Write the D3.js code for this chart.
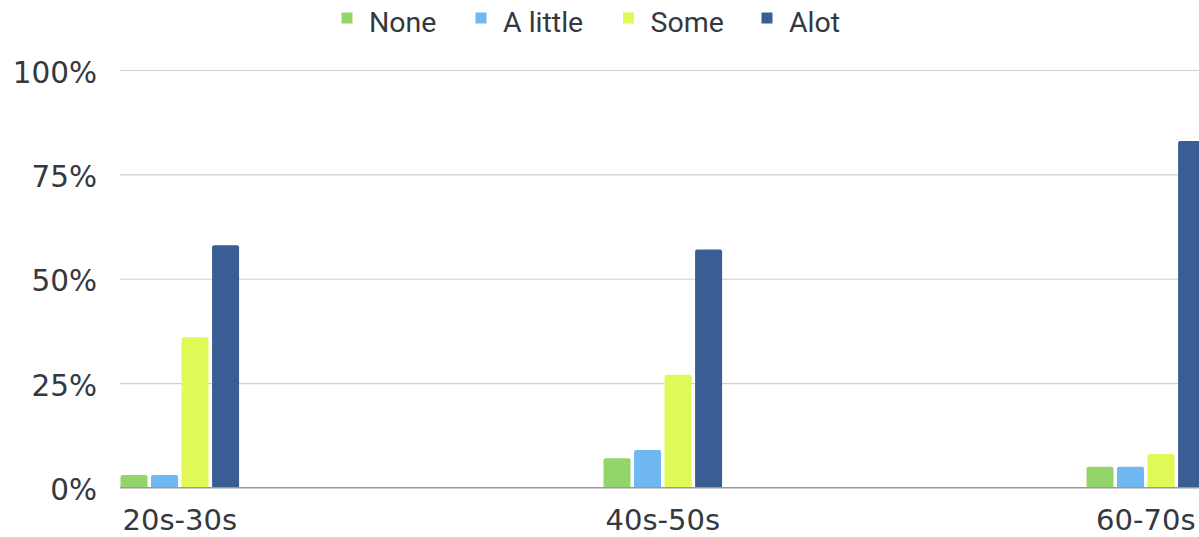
<!DOCTYPE html>
<html>
<head>
<meta charset="utf-8">
<script src="https://cdn.jsdelivr.net/npm/d3@7"></script>
<style>
  body { margin: 0; background: #fff; }
  svg text { fill: #343840; }
  .axis text { font-family: "DejaVu Sans", sans-serif; }
  .legend text { font-family: Roboto, sans-serif; }
</style>
</head>
<body>
<svg id="chart" width="1199" height="537"></svg>
<script>
// age groups and answer levels
const categories = ['20s-30s', '40s-50s', '60-70s'];
const seriesNames = ['None', 'A little', 'Some', 'Alot'];
const seriesColors = ['#94d56b', '#6fb8f2', '#e1f957', '#3a5e94'];

// share of answers per series, one value per age group
const noneValues = [0.03, 0.07, 0.05];
const aLittleValues = [0.03, 0.09, 0.05];
const someValues = [0.36, 0.27, 0.08];
const alotValues = [0.58, 0.57, 0.83];

const yTicks = [0, 0.25, 0.5, 0.75, 1];

const seriesValues = [noneValues, aLittleValues, someValues, alotValues];
const data = categories.map((c, i) => ({
    category: c,
    values: seriesNames.map((s, j) => ({ key: s, value: seriesValues[j][i], color: seriesColors[j] }))
}));

const WIDTH = 1199;
const HEIGHT = 537;
const MARGIN = { left: 120, top: 70, bottom: 49.5 };

const svg = d3.select('#chart');

// Scales
const x0 = d3.scaleBand()
    .domain(categories)
    .range([MARGIN.left + 0.5, MARGIN.left + 0.5 + 1084.6])
    .paddingInner(0.7545)
    .paddingOuter(0);
const x1 = d3.scaleBand()
    .domain(seriesNames)
    .range([0, x0.bandwidth()])
    .paddingInner(0.115);
const y = d3.scaleLinear()
    .domain([0, 1])
    .range([HEIGHT - MARGIN.bottom, MARGIN.top]);

// Y axis with gridlines
const yAxis = svg.append('g')
    .attr('class', 'axis')
    .attr('transform', `translate(${MARGIN.left},0)`)
    .call(d3.axisLeft(y)
        .tickValues(yTicks)
        .tickFormat(d3.format('.0%'))
        .tickSize(-(WIDTH - MARGIN.left))
        .tickPadding(23));
yAxis.select('.domain').remove();
yAxis.selectAll('.tick line')
    .attr('stroke', d => d === 0 ? '#9a9a9a' : '#d0d0d0')
    .attr('stroke-width', 1.2);
yAxis.selectAll('.tick text')
    .attr('font-size', 29.5)
    .attr('dy', 12);

// Bars
const groups = svg.append('g')
    .selectAll('g')
    .data(data)
    .join('g')
    .attr('transform', d => `translate(${x0(d.category)},0)`);
groups.selectAll('path')
    .data(d => d.values)
    .join('path')
    .attr('fill', d => d.color)
    .attr('d', d => {
        const x = x1(d.key), w = x1.bandwidth();
        const top = y(d.value), bottom = y(0), r = 2;
        return `M${x},${bottom}V${top + r}Q${x},${top} ${x + r},${top}H${x + w - r}Q${x + w},${top} ${x + w},${top + r}V${bottom}Z`;
    });

// baseline on top of bars
svg.append('line')
    .attr('x1', MARGIN.left).attr('x2', WIDTH)
    .attr('y1', y(0)).attr('y2', y(0))
    .attr('stroke', '#9a9a9a').attr('stroke-width', 1.2);

// X axis labels
const xAxis = svg.append('g')
    .attr('class', 'axis')
    .attr('transform', `translate(0,${y(0)})`)
    .call(d3.axisBottom(x0).tickSize(0));
xAxis.select('.domain').remove();
xAxis.selectAll('.tick text')
    .attr('font-size', 29)
    .attr('y', 42.5)
    .attr('dy', 0);

// Legend
const legendX = [341.5, 475.5, 623, 761.5];
const legend = svg.append('g')
    .attr('class', 'legend')
    .selectAll('g')
    .data(seriesNames)
    .join('g')
    .attr('transform', (d, i) => `translate(${legendX[i]},0)`);
legend.append('rect')
    .attr('y', 12.5)
    .attr('width', 11).attr('height', 11)
    .attr('fill', (d, i) => seriesColors[i]);
legend.append('text')
    .attr('x', 27.5).attr('y', 32)
    .attr('font-size', 28.5)
    .text(d => d);
</script>
</body>
</html>
